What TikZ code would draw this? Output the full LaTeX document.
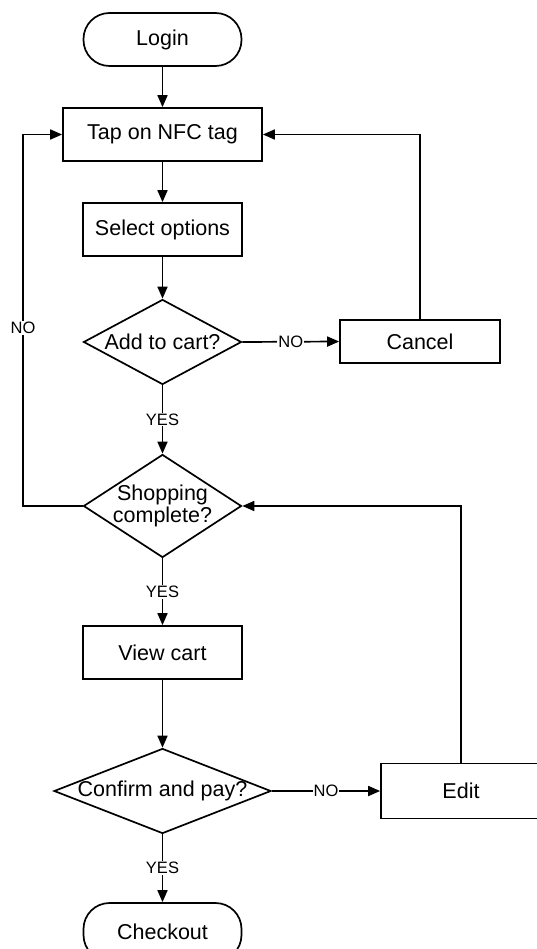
\documentclass[tikz,border=0pt]{standalone}
\usepackage{fontspec}
\setmainfont{Liberation Sans}
\usetikzlibrary{shapes.geometric,arrows.meta}

\begin{document}
\begin{tikzpicture}[x=1pt,y=-1pt,line width=1.7pt,
  every node/.style={font=\fontsize{21.5}{22}\selectfont},
  terminal/.style={draw,rectangle,rounded corners=26pt,minimum width=158pt,minimum height=53pt},
  process/.style={draw,rectangle,inner sep=0pt,minimum height=53pt},
  decision/.style={draw,diamond,aspect=2,inner sep=-20pt,align=center},
  lbl/.style={fill=white,inner sep=1pt,font=\fontsize{16.5}{18}\selectfont},
  arr/.style={-{Triangle[length=12pt,width=10pt]}}]
  \useasboundingbox (0,0) rectangle (536,949);

  % main column
  \node[terminal] (login) at (162.5,39.5) {Login};
  \node[process,minimum width=199pt] (tap) at (162.5,134.5) {Tap on NFC tag};
  \node[process,minimum width=159pt] (select) at (162.5,229.5) {Select options};
  \node[decision,minimum width=158pt,minimum height=85pt] (add) at (162.5,342) {Add to cart?};
  \node[decision,minimum width=158pt,minimum height=103pt] (shop) at (162.5,506) {Shopping\\complete?};
  \node[process,minimum width=159pt] (view) at (162.5,652.5) {View cart};
  \node[decision,minimum width=217pt,minimum height=85pt] (pay) at (162.5,791) {Confirm and pay?};
  \node[terminal,minimum height=58pt] (checkout) at (162.5,932) {Checkout};

  % side boxes
  \node[process,minimum width=160pt,minimum height=43pt] (cancel) at (420,341.5) {Cancel};
  \node[process,minimum width=160pt,minimum height=55pt] (edit) at (461,791) {Edit};
  \coordinate (loopx) at (23,0);

  \draw[arr] (login) -- (tap);
  \draw[arr] (tap) -- (select);
  \draw[arr] (select) -- (add);
  \draw[arr] (add.east) -- node[lbl] {NO} (cancel.west);
  \draw[arr] (cancel.north) |- (tap.east);
  \draw[arr] (add.south) -- node[lbl] {YES} (shop.north);
  \draw[arr] (shop.west) -- (shop.west -| loopx)
    -- node[lbl,pos=0.48] {NO} (tap.west -| loopx) -- (tap.west);
  \draw[arr] (shop.south) -- node[lbl] {YES} (view.north);
  \draw[arr] (view) -- (pay);
  \draw[arr] (pay.east) -- node[lbl] {NO} (edit.west);
  \draw[arr] (edit.north) |- (shop.east);
  \draw[arr] (pay.south) -- node[lbl] {YES} (checkout.north);
\end{tikzpicture}
\end{document}
